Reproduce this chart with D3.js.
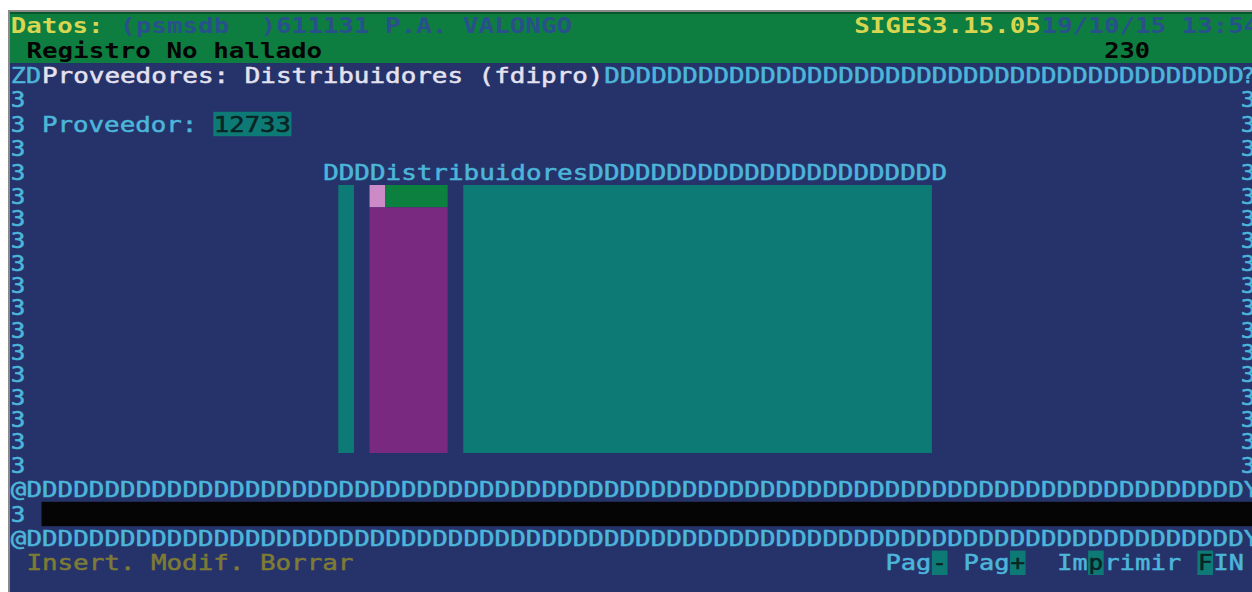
<!DOCTYPE html>
<html>
<head>
<meta charset="utf-8">
<script src="https://cdn.jsdelivr.net/npm/d3@7"></script>
<style>
  html, body { margin: 0; padding: 0; background: #ffffff; }
  svg { display: block; }
  text { white-space: pre; font-family: "DejaVu Sans Mono", "Liberation Mono", monospace; }
</style>
</head>
<body>
<svg id="chart" width="1252" height="592"></svg>
<script>
// ---------- DATA (in terminal cell units: column / row) ----------
const screenCols = 80;
const screenRows = 24;

// text segments
const segText = [
  "Datos:", "(psmsdb  )611131 P.A. VALONGO", "SIGES3.15.05", "19/10/15 13:54",
  "Registro No hallado", "230",
  "ZD", "Proveedores: Distribuidores (fdipro)", "D".repeat(41),
  "Proveedor:", "12733",
  "DDDDistribuidores" + "D".repeat(23),
  "@" + "D".repeat(78) + "Y",
  "@" + "D".repeat(78) + "Y",
  "Insert. Modif. Borrar",
  "Pag", "-", "Pag", "+", "Im", "p", "rimir", "F", "IN"
];
const segRow = [0, 0, 0, 0, 1, 1, 2, 2, 2, 4, 4, 6, 20, 22, 23, 23, 23, 23, 23, 23, 23, 23, 23, 23];
const segCol = [0, 7, 54, 66, 1, 70, 0, 2, 38, 2, 13, 20, 0, 0, 1, 56, 59, 61, 64, 67, 69, 70, 76, 77];
const segRole = ["yellow", "navy", "yellow", "navy", "black", "black", "cyan", "white", "cyan",
  "cyan", "dark", "cyan", "cyan", "cyan", "olive",
  "cyan", "dark", "cyan", "dark", "cyan", "dark", "cyan", "dark", "cyan"];

// right-edge characters (last column, partly hidden by the window edge)
const edgeText = ["?", "3", "3", "3", "3", "3", "3", "3", "3", "3", "3", "3", "3", "3", "3", "3", "3", "3"];
const edgeRows = [2, 3, 4, 5, 6, 7, 8, 9, 10, 11, 12, 13, 14, 15, 16, 17, 18, 19];

// left border "3" characters
const leftBorderRows = [3, 4, 5, 6, 7, 8, 9, 10, 11, 12, 13, 14, 15, 16, 17, 18, 19, 21];

// highlighted cell backgrounds
const hiCol0 = [13, 59, 64, 69, 76, 2];
const hiCol1 = [18, 60, 65, 70, 77, 80];
const hiRow = [4, 23, 23, 23, 23, 21];
const hiRole = ["teal", "teal", "teal", "teal", "teal", "black"];

// the Distribuidores blocks
const blockName = ["bar A", "cap pink", "cap green", "bar B", "bar C"];
const blockCol0 = [21, 23, 24, 23, 29];
const blockCol1 = [22, 24, 28, 28, 59];
const blockRow0 = [7, 7, 7, 8, 7];
const blockRow1 = [19, 8, 8, 19, 19];
const blockRole = ["teal", "pink", "green", "purple", "teal"];

// ---------- STYLE ----------
const colors = {
  bg: "#26336a", header: "#0e7e40", headerEdge: "#06582a", frame: "#8a8a8a",
  yellow: "#d8d650", navy: "#28508c", black: "#050505", cyan: "#4cb6da",
  white: "#e4e2ef", dark: "#0a2424", olive: "#7e7b34",
  teal: "#0e7a76", pink: "#cc8ac6", green: "#0c803e", purple: "#7a2981"
};

// ---------- SCALES ----------
const x = d3.scaleLinear().domain([0, screenCols]).range([10.3, 10.3 + screenCols * 15.62]);
const y = d3.scaleLinear().domain([0, 2, 7, 19, 24]).range([13, 63, 185, 453, 575]);
const cw = x(1) - x(0);
const fontSize = 21;
const baseline = r => (y(r) + y(r + 1)) / 2 + 0.365 * fontSize;

const svg = d3.select("#chart");

// frame + backgrounds
svg.append("rect").attr("x", 0).attr("y", 0).attr("width", 1252).attr("height", 592).attr("fill", "#ffffff");
svg.append("rect").attr("x", 8).attr("y", 10).attr("width", 1244).attr("height", 582).attr("fill", colors.frame);
svg.append("rect").attr("x", 10).attr("y", 12).attr("width", 1242).attr("height", 580).attr("fill", colors.bg);
svg.append("rect").attr("x", 10).attr("y", 12).attr("width", 1242).attr("height", y(2) - 12).attr("fill", colors.header);
svg.append("rect").attr("x", 10).attr("y", 12).attr("width", 1242).attr("height", 2).attr("fill", colors.headerEdge);

// highlighted backgrounds
svg.append("g").selectAll("rect").data(hiRow).join("rect")
  .attr("x", (d, i) => x(hiCol0[i]))
  .attr("y", d => y(d))
  .attr("width", (d, i) => x(hiCol1[i]) - x(hiCol0[i]))
  .attr("height", d => y(d + 1) - y(d))
  .attr("fill", (d, i) => colors[hiRole[i]]);

// blocks
svg.append("g").selectAll("rect").data(blockName).join("rect")
  .attr("x", (d, i) => x(blockCol0[i]))
  .attr("y", (d, i) => y(blockRow0[i]))
  .attr("width", (d, i) => x(blockCol1[i]) - x(blockCol0[i]))
  .attr("height", (d, i) => y(blockRow1[i]) - y(blockRow0[i]))
  .attr("fill", (d, i) => colors[blockRole[i]]);

// text segments
function addText(g, str, col, row, role, dx = 0) {
  g.append("text")
    .attr("x", x(col) + 0.5 + dx)
    .attr("y", baseline(row))
    .attr("font-size", fontSize)
    .attr("font-weight", row < 2 ? "bold" : "normal")
    .attr("textLength", str.length * cw - 1)
    .attr("lengthAdjust", "spacingAndGlyphs")
    .attr("fill", colors[role])
    .attr("stroke", row < 2 ? "none" : colors[role])
    .attr("stroke-width", row < 2 ? 0 : 0.5)
    .text(str);
}
const tg = svg.append("g");
segText.forEach((s, i) => addText(tg, s, segCol[i], segRow[i], segRole[i]));
leftBorderRows.forEach(r => addText(tg, "3", 0, r, "cyan"));
edgeText.forEach((s, i) => addText(tg, s, 79, edgeRows[i], "cyan", -4));
</script>
</body>
</html>
